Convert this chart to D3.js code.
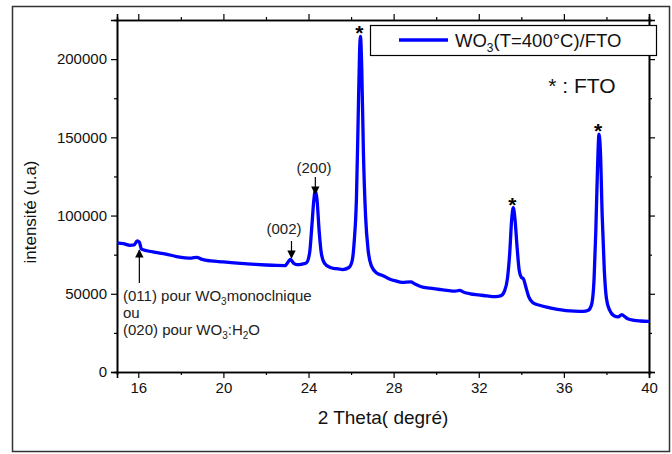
<!DOCTYPE html>
<html><head><meta charset="utf-8">
<script src="https://cdn.jsdelivr.net/npm/d3@7"></script>
<style>body{margin:0;background:#fff}svg{display:block;font-family:Arial,"Liberation Sans",sans-serif}</style>
</head><body><svg id="c" width="672" height="454"></svg>
<script>
const twoTheta = [15.0,15.3,15.6,15.8,15.95,16.05,16.15,16.4,16.8,17.3,17.8,18.2,18.5,18.75,19.0,19.4,20.0,20.5,21.0,21.5,22.0,22.5,22.9,23.05,23.15,23.3,23.45,23.7,23.9,24.05,24.15,24.25,24.32,24.4,24.5,24.6,24.75,25.0,25.3,25.6,25.9,26.05,26.15,26.25,26.33,26.4,26.44,26.5,26.58,26.68,26.8,26.95,27.2,27.5,27.8,28.1,28.4,28.8,29.0,29.3,29.7,30.1,30.5,30.9,31.1,31.3,31.6,32.0,32.4,32.8,33.05,33.2,33.35,33.45,33.55,33.62,33.7,33.8,33.9,34.0,34.1,34.2,34.35,34.55,34.9,35.3,35.7,36.1,36.5,36.9,37.15,37.3,37.42,37.5,37.58,37.65,37.72,37.8,37.9,38.0,38.15,38.35,38.55,38.72,38.85,39.0,39.3,39.6,40.0];
const intensity = [82500,82000,81000,81200,83800,83000,78500,77500,76500,75400,73800,73000,72800,73300,72000,71000,70400,69800,69300,68800,68400,68100,68000,70500,72000,69500,68600,69000,69800,76000,92000,110000,116000,110000,90000,76000,69500,67000,66000,65500,66800,71000,84000,110000,160000,205000,214500,195000,140000,100000,78000,68000,63300,61600,59500,58200,57300,57600,56300,54500,53600,52900,52200,51700,52200,51000,50000,49300,48600,48200,48800,51500,60000,75000,98000,105000,98000,80000,65000,60500,59500,55000,48000,44200,42500,41200,40000,39300,38900,38700,39500,43000,60000,90000,130000,152000,140000,100000,65000,47000,39500,36000,35300,36700,35500,34000,33000,32600,32300];
const xTicks = [16,20,24,28,32,36,40];
const xMinorTicks = [18,22,26,30,34,38];
const yTicks = [0,50000,100000,150000,200000];
const yMinorTicks = [25000,75000,125000,175000];
const starPeaks = [26.44,33.62,37.65];
const starValues = [214500,105000,152000];

const svg = d3.select("#c");
const L=117,R=649,T=20,B=372;
const x = d3.scaleLinear().domain([15,40]).range([L,R]);
const y = d3.scaleLinear().domain([0,225000]).range([B,T]);

// outer border
svg.append("rect").attr("x",12.5).attr("y",6.5).attr("width",657).attr("height",445)
  .attr("fill","none").attr("stroke","#333").attr("stroke-width",1.5);

const fs = 15;
svg.append("g").attr("transform",`translate(0,${B})`)
  .call(d3.axisBottom(x).tickValues(xTicks).tickSize(6).tickPadding(4).tickFormat(d3.format("d")));
svg.append("g").attr("transform",`translate(0,${B})`)
  .call(d3.axisBottom(x).tickValues(xMinorTicks).tickSize(3).tickFormat(""));
svg.append("g").attr("transform",`translate(0,${T})`)
  .call(d3.axisTop(x).tickValues(xTicks).tickSize(6).tickFormat(""));
svg.append("g").attr("transform",`translate(0,${T})`)
  .call(d3.axisTop(x).tickValues(xMinorTicks).tickSize(3).tickFormat(""));
svg.append("g").attr("transform",`translate(${L},0)`)
  .call(d3.axisLeft(y).tickValues(yTicks).tickSize(6).tickPadding(4).tickFormat(d3.format("d")));
svg.append("g").attr("transform",`translate(${L},0)`)
  .call(d3.axisLeft(y).tickValues(yMinorTicks).tickSize(3).tickFormat(""));
svg.append("g").attr("transform",`translate(${R},0)`)
  .call(d3.axisRight(y).tickValues(yTicks).tickSize(6).tickFormat(""));
svg.append("g").attr("transform",`translate(${R},0)`)
  .call(d3.axisRight(y).tickValues(yMinorTicks).tickSize(3).tickFormat(""));

svg.selectAll(".domain").attr("stroke","#000").attr("stroke-width",1.6);
svg.selectAll(".tick line").attr("stroke","#000").attr("stroke-width",1.2);
svg.selectAll(".tick text").attr("font-size",fs).attr("fill","#111").attr("font-family","Arial, 'Liberation Sans', sans-serif");

svg.append("text").attr("x",383).attr("y",424).attr("text-anchor","middle")
  .attr("font-size",19).attr("fill","#111").text("2 Theta( degré)");
svg.append("text").attr("transform","translate(36,212) rotate(-90)").attr("text-anchor","middle")
  .attr("font-size",17).attr("fill","#111").text("intensité (u.a)");

const data = twoTheta.map((t,i)=>[t,intensity[i]]);
const line = d3.line().x(d=>x(d[0])).y(d=>y(d[1])).curve(d3.curveMonotoneX);
svg.append("path").datum(data).attr("d",line).attr("fill","none")
  .attr("stroke","#0000ff").attr("stroke-width",3.3).attr("stroke-linejoin","round");

svg.selectAll(".star").data(starPeaks).enter().append("text")
  .attr("x",(d)=>x(d)-1).attr("y",(d,i)=>y(starValues[i])+4).attr("text-anchor","middle")
  .attr("font-size",21).attr("font-weight","bold").attr("fill","#000").text("*");

const defs = svg.append("defs");
defs.append("marker").attr("id","ah").attr("viewBox","0 0 10 10").attr("refX",9).attr("refY",5)
  .attr("markerWidth",7).attr("markerHeight",7).attr("orient","auto-start-reverse")
  .append("path").attr("d","M0,0 L10,5 L0,10 z").attr("fill","#000");
function arrow(xv, y1, y2){
  svg.append("line").attr("x1",x(xv)).attr("x2",x(xv)).attr("y1",y1).attr("y2",y2)
    .attr("stroke","#000").attr("stroke-width",1.2).attr("marker-end","url(#ah)");
}
arrow(16.05, 283, 250);
arrow(23.2, 241, 258);
arrow(24.32, 177, 194);

const ann = svg.append("g").attr("font-size",15).attr("fill","#222");
const t1 = ann.append("text").attr("x",123).attr("y",301);
t1.append("tspan").text("(011) pour WO");
t1.append("tspan").attr("font-size",10).attr("dy",4).text("3");
t1.append("tspan").attr("dy",-4).text("monoclnique");
ann.append("text").attr("x",123).attr("y",318).text("ou");
const t3 = ann.append("text").attr("x",123).attr("y",335);
t3.append("tspan").text("(020) pour WO");
t3.append("tspan").attr("font-size",10).attr("dy",4).text("3");
t3.append("tspan").attr("dy",-4).text(":H");
t3.append("tspan").attr("font-size",10).attr("dy",4).text("2");
t3.append("tspan").attr("dy",-4).text("O");
ann.append("text").attr("x",284).attr("y",234).attr("text-anchor","middle").text("(002)");
ann.append("text").attr("x",314).attr("y",173).attr("text-anchor","middle").text("(200)");

svg.append("rect").attr("x",370.5).attr("y",25.5).attr("width",286).attr("height",30)
  .attr("fill","#fff").attr("stroke","#000").attr("stroke-width",1.2);
svg.append("line").attr("x1",399).attr("x2",448).attr("y1",40).attr("y2",40)
  .attr("stroke","#0000ff").attr("stroke-width",3.3);
const lt = svg.append("text").attr("x",455).attr("y",47).attr("font-size",18.5).attr("fill","#111");
lt.append("tspan").text("WO");
lt.append("tspan").attr("font-size",12).attr("dy",5).text("3");
lt.append("tspan").attr("dy",-5).text("(T=400°C)/FTO");

svg.append("text").attr("x",582).attr("y",93).attr("text-anchor","middle")
  .attr("font-size",21).attr("fill","#111").text("* : FTO");
</script></body></html>
